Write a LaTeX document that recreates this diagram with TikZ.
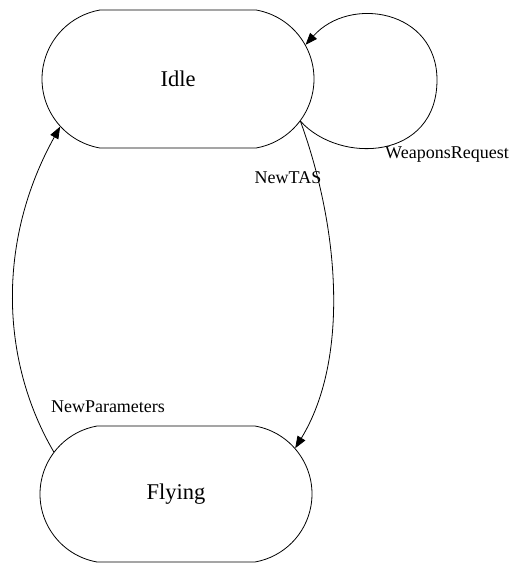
\documentclass[tikz,border=0pt]{standalone}
\usepackage{fontspec}
\setmainfont{Liberation Serif}
\usetikzlibrary{arrows.meta,shapes.misc}
\begin{document}
\begin{tikzpicture}[x=1pt,y=-1pt,
  state/.style={draw,line width=0.8pt,rounded rectangle,rounded rectangle arc length=160,
    minimum width=272pt,minimum height=138pt,inner sep=0pt,
    font=\fontsize{22.5}{27}\selectfont},
  trans/.style={draw,line width=0.8pt,-{Triangle[length=12pt,width=9pt]}},
  tlabel/.style={font=\fontsize{18}{22}\selectfont,inner sep=0pt}]
\useasboundingbox (0,0) rectangle (519,563);
\fill[white] (0,0) rectangle (519,563);

% states
\node[state] (idle) at (178,79) {Idle};
\node[state,minimum height=136pt] (flying) at (176,494) {Flying};

% self loop on Idle, passing round its right-hand point
\coordinate (loopright) at (437,80);
\draw[trans] (idle.-19) .. controls (340,165) and (437,160) .. (loopright)
  .. controls (437,10) and (350,-5) .. (idle.15);
% transitions between the two states
\draw[trans] (idle.-19) .. controls (340,230) and (349,360) .. (flying.21);
\draw[trans] (flying.161) .. controls (0,360) and (-3,240) .. (idle.202);

% transition labels
\node[tlabel] (lweapons) at (447,155) {WeaponsRequest};
\node[tlabel] (lnewtas) at (288,178) {NewTAS};
\node[tlabel] (lnewpar) at (108,407) {NewParameters};
\end{tikzpicture}
\end{document}
